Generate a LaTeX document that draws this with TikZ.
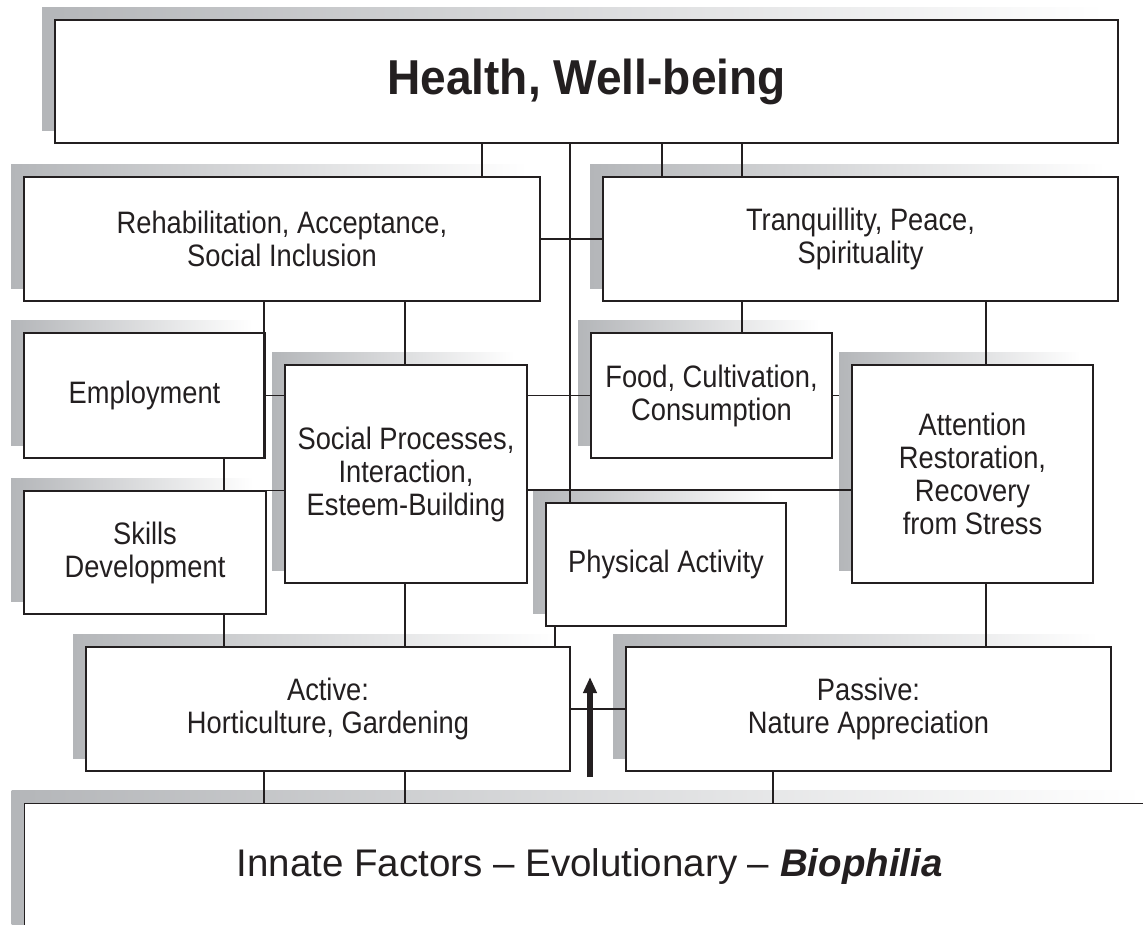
\documentclass[tikz,border=0pt]{standalone}
\usepackage{fontspec}
\setmainfont{Liberation Sans}
\newfontfamily\titlefont[FakeStretch=0.94]{Liberation Sans}
\newfontfamily\boxfont[FakeStretch=0.88]{Liberation Sans}
\usetikzlibrary{arrows.meta,shadows,backgrounds}
\definecolor{ink}{HTML}{231F20}
\definecolor{shgray}{HTML}{B4B6B9}

\begin{document}
\begin{tikzpicture}[x=1pt,y=-1pt,
box/.style={draw=ink,line width=1.3pt,fill=white,text=ink,align=center,
  inner sep=0pt,font=\boxfont\fontsize{31}{33}\selectfont,
  general shadow={shadow xshift=-13pt,shadow yshift=13pt,
    left color=shgray,right color=white}},
conn/.style={draw=ink,line width=1.1pt}]
\useasboundingbox (0,0) rectangle (1143,924);
\node(health)[box,minimum width=1063pt,minimum height=123pt,
  font=\titlefont\bfseries\fontsize{49}{56}\selectfont] at (586.5,81.5) {Health, Well-being};
\node(rehab)[box,minimum width=516pt,minimum height=124pt] at (282,239)
  {Rehabilitation, Acceptance,\\Social Inclusion};
\node(tranq)[box,minimum width=515pt,minimum height=124pt] at (860.5,239)
  {Tranquillity, Peace,\\Spirituality};
\node(employ)[box,minimum width=241pt,minimum height=125pt] at (144.5,395.5) {Employment};
\node(social)[box,minimum width=242pt,minimum height=218pt] at (406,474)
  {Social Processes,\\Interaction,\\Esteem-Building};
\node(food)[box,minimum width=241pt,minimum height=125pt] at (711.5,395.5)
  {Food, Cultivation,\\Consumption};
\node(attn)[box,minimum width=241pt,minimum height=218pt] at (972.5,474)
  {Attention\\Restoration,\\Recovery\\from Stress};
\node(skills)[box,minimum width=242pt,minimum height=123pt] at (145,552.5)
  {Skills\\Development};
\node(phys)[box,minimum width=240pt,minimum height=123pt] at (666,564.5) {Physical Activity};
\node(active)[box,minimum width=484pt,minimum height=124pt] at (328,709)
  {Active:\\Horticulture, Gardening};
\node(passive)[box,minimum width=485pt,minimum height=124pt] at (868.5,709)
  {Passive:\\Nature Appreciation};
\node(innate)[box,anchor=north west,minimum width=1130pt,minimum height=157pt,
  text height=28pt,text depth=39pt,font=\fontsize{38.5}{46}\selectfont] at (24,803)
  {Innate Factors -- Evolutionary -- \textbf{\textit{Biophilia}}};
\path[conn]
(482,0 |- health.south) edge (482,0 |- rehab.north)
(662,0 |- health.south) edge (662,0 |- tranq.north)
(742,0 |- health.south) edge (742,0 |- tranq.north)
(570,0 |- health.south) edge (570,0 |- phys.north)
(rehab.east) edge (tranq.west)
(264,0 |- rehab.south) edge (264,0 |- employ.south)
(405,0 |- rehab.south) edge (405,0 |- social.north)
(742,0 |- tranq.south) edge (742,0 |- food.north)
(986,0 |- tranq.south) edge (986,0 |- attn.north)
(employ.east) edge (social.west |- employ.east)
(224,0 |- employ.south) edge (224,0 |- skills.north)
(256,0 |- skills.north) edge (social.west |- skills.north)
(social.east |- food.west) edge (food.west)
(social.east |- 0,490) edge (attn.west |- 0,490)
(224,0 |- skills.south) edge (224,0 |- active.north)
(405,0 |- social.south) edge (405,0 |- active.north)
(555,0 |- phys.south) edge (555,0 |- active.north)
(active.east) edge (passive.west)
(986,0 |- attn.south) edge (986,0 |- passive.north)
(264,0 |- active.south) edge (264,0 |- innate.north)
(405,0 |- active.south) edge (405,0 |- innate.north)
(773,0 |- passive.south) edge (773,0 |- innate.north);
\begin{scope}[on background layer]
\draw[conn] (food.east) -- (food.east -| attn.west);
\end{scope}
\coordinate (foot) at (590,777);
\coordinate (tip) at (590,677);
\draw[ink,line width=6pt,-{Triangle[width=13pt,length=16pt]}] (foot) -- (tip);
\end{tikzpicture}
\end{document}
